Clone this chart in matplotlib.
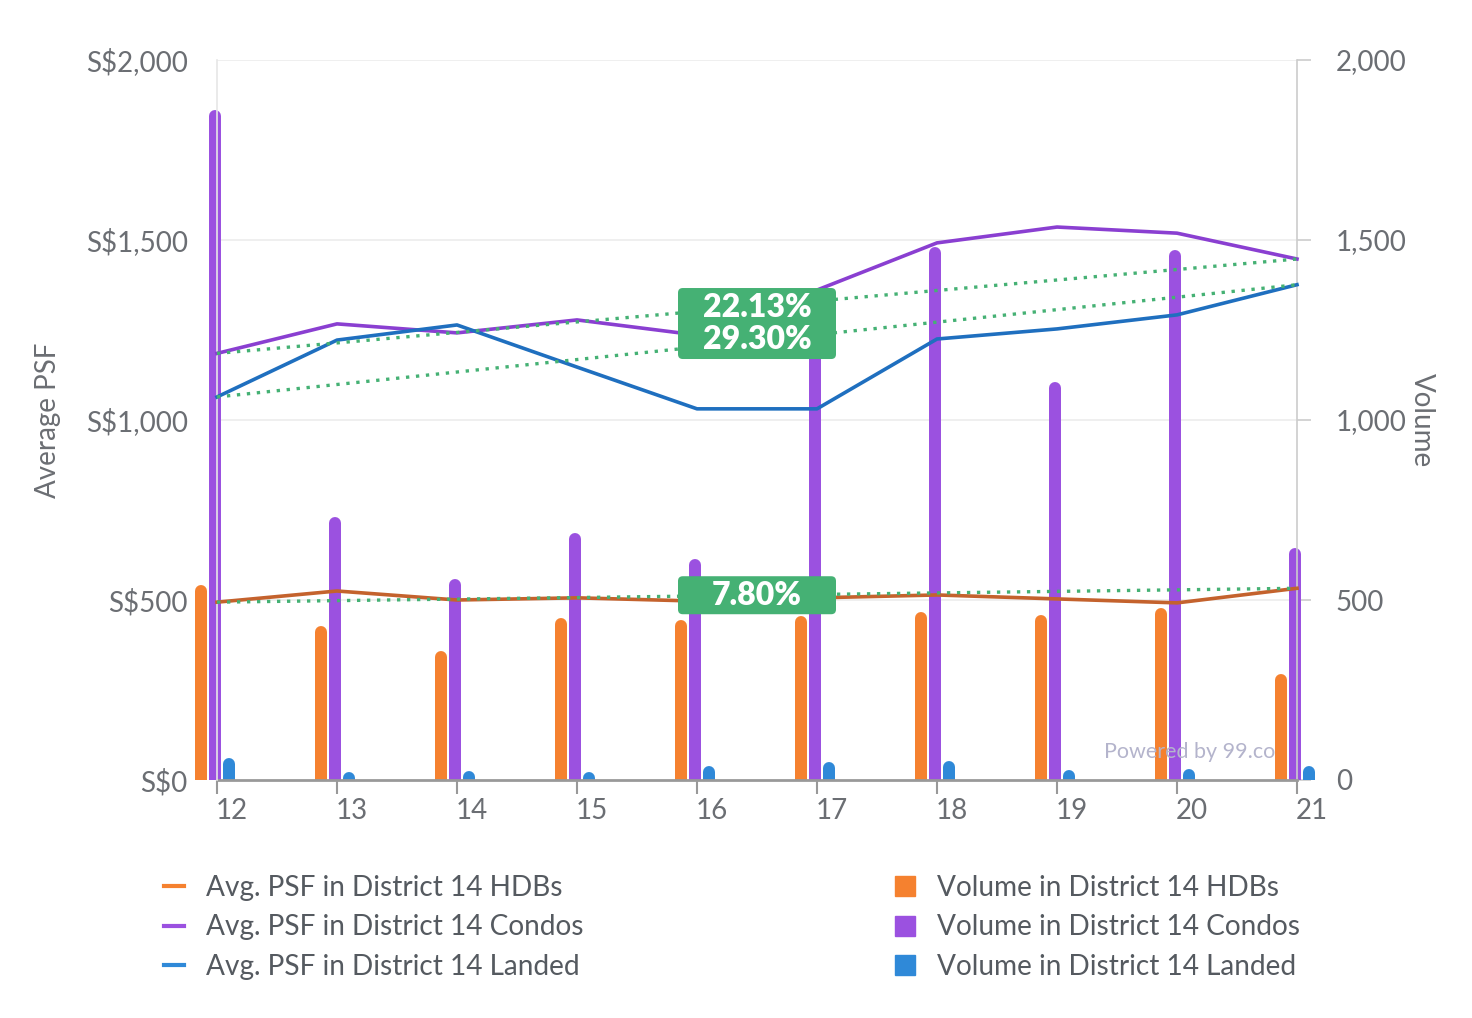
import matplotlib
matplotlib.use("Agg")
import matplotlib.pyplot as plt
import matplotlib.transforms as mtransforms
from matplotlib.patches import FancyBboxPatch, Rectangle
from matplotlib.lines import Line2D

plt.rcParams['font.family'] = ['Lato', 'DejaVu Sans']

# data
districts = [12, 13, 14, 15, 16, 17, 18, 19, 20, 21]
psf_hdb = [494, 525, 500, 506, 497, 506, 514, 503, 492, 532.5]
psf_condo = [1185, 1267, 1242, 1278, 1236, 1361, 1492, 1536, 1519, 1447.2]
psf_landed = [1064, 1222, 1264, 1147, 1031, 1031, 1225, 1253, 1292, 1375.8]
vol_hdb = [542, 428, 358, 450, 444, 455, 467, 458, 478, 294]
vol_condo = [1861, 731, 558, 686, 614, 1300, 1481, 1106, 1472, 644]
vol_landed = [61, 22, 25, 22, 39, 50, 53, 28, 31, 39]
trend_labels = ["22.13%\n29.30%", "7.80%"]

c_orange = '#f5812f'
c_purple = '#9b51e0'
c_blue = '#2f89d8'
c_line_orange = '#c4622d'
c_line_purple = '#8a3fd1'
c_line_blue = '#1f6fbf'
c_green = '#45b174'
c_text = '#6b6e73'
fs = 20

fig = plt.figure(figsize=(14.72, 10.18), dpi=100)
ax = fig.add_axes([217/1472, 1-780/1018, 1080/1472, 720/1018])
ax2 = ax.twinx()
ax.set_zorder(ax2.get_zorder() + 1)
ax.patch.set_visible(False)

ymax = 2000
for a in (ax, ax2):
    a.set_ylim(0, ymax)
    a.set_xlim(12, 21)

# grid
for v in [500, 1000, 1500, 2000]:
    ax2.axhline(v, color='#ececec', lw=1.2, zorder=0)

# rounded-top bars on the volume axis
bar_lw_px = 12
cap = (bar_lw_px / 2) * ymax / 720
clip = Rectangle((-0.1, 0), 1.2, 1.2, transform=ax2.transAxes, visible=False)
ax2.add_patch(clip)
for vals, off, col in [(vol_hdb, -16, c_orange), (vol_condo, -1.7, c_purple),
                       (vol_landed, 12, c_blue)]:
    xs = [d + off / 120 for d in districts]
    tops = [v - cap for v in vals]
    lc = ax2.vlines(xs, -50, tops, colors=col, lw=bar_lw_px * 0.72,
                    capstyle='round', zorder=2)
    lc.set_clip_path(clip)

# PSF lines
for vals, col in [(psf_condo, c_line_purple), (psf_landed, c_line_blue),
                  (psf_hdb, c_line_orange)]:
    ax.plot(districts, vals, color=col, lw=2.6, zorder=3, clip_on=False)
    ax.plot([districts[0], districts[-1]], [vals[0], vals[-1]], color=c_green,
            lw=2.4, ls=(0, (1, 2)), zorder=4, clip_on=False)

# trend labels
xm = (districts[0] + districts[-1]) / 2
mid_top = ((psf_condo[0] + psf_condo[-1]) / 2 + (psf_landed[0] + psf_landed[-1]) / 2) / 2
mid_bot = (psf_hdb[0] + psf_hdb[-1]) / 2
for yc, txt, hpx in [(mid_top, trend_labels[0], 71), (mid_bot, trend_labels[1], 38)]:
    w = 158 / 120
    h = hpx * ymax / 720
    box = FancyBboxPatch((xm - w / 2, yc - h / 2), w, h,
                         boxstyle='round,pad=0,rounding_size=0.04',
                         mutation_aspect=ymax / 720 * 120,
                         fc=c_green, ec='none', zorder=5)
    ax.add_patch(box)
    ax.text(xm, yc, txt, ha='center', va='center', color='white',
            fontsize=23, fontweight='heavy', linespacing=1.15, zorder=6)

# axes styling
ax.set_xticks(districts)
ax.set_xticklabels([str(d) for d in districts])
ax.tick_params(axis='x', length=10, width=1.5, color='#999999', labelsize=fs,
               labelcolor=c_text, pad=3)
shift = mtransforms.ScaledTranslation(15 / 100, 0, fig.dpi_scale_trans)
for lab in ax.get_xticklabels():
    lab.set_transform(lab.get_transform() + shift)

ax.set_yticks([0, 500, 1000, 1500, 2000])
ax.set_yticklabels(['S$0', 'S$500', 'S$1,000', 'S$1,500', 'S$2,000'])
ax.tick_params(axis='y', length=0, labelsize=fs, labelcolor=c_text, pad=21)
ax2.set_yticks([0, 500, 1000, 1500, 2000])
ax2.set_yticklabels(['0', '500', '1,000', '1,500', '2,000'])
ax2.tick_params(axis='y', length=10, width=1.2, color='#cccccc', labelsize=fs,
                labelcolor=c_text, pad=18)
ax2.tick_params(axis='x', length=0)

for a in (ax, ax2):
    a.spines['top'].set_visible(False)
ax.spines['left'].set_color('#e6e6e6')
ax.spines['left'].set_linewidth(1.2)
ax.spines['right'].set_visible(False)
ax2.spines['left'].set_visible(False)
ax2.spines['right'].set_color('#cccccc')
ax2.spines['right'].set_linewidth(1.2)
ax2.spines['bottom'].set_color('#999999')
ax2.spines['bottom'].set_linewidth(2)
ax.spines['bottom'].set_visible(False)

ax.set_ylabel('Average PSF', fontsize=fs, color=c_text)
ax.yaxis.set_label_coords((61 - 217) / 1080, 0.5)
ax2.set_ylabel('Volume', fontsize=fs, color=c_text, rotation=270)
ax2.yaxis.set_label_coords((1435 - 217) / 1080, 0.5)

ax.text(1275 / 1472, 1 - 752 / 1018, 'Powered by 99.co', transform=fig.transFigure,
        ha='right', va='center', fontsize=15.5, color='#b4b4cc', zorder=7)

# legends
line_handles = [Line2D([], [], color=c, lw=3) for c in (c_orange, c_purple, c_blue)]
line_labels = ['Avg. PSF in District 14 HDBs', 'Avg. PSF in District 14 Condos',
               'Avg. PSF in District 14 Landed']
bar_handles = [Line2D([], [], color=c, marker='s', ms=15, ls='none')
               for c in (c_orange, c_purple, c_blue)]
bar_labels = ['Volume in District 14 HDBs', 'Volume in District 14 Condos',
              'Volume in District 14 Landed']
leg_kw = dict(loc='upper left', frameon=False, fontsize=20.2, labelcolor='#555a60',
              handlelength=0.72, handletextpad=0.78, labelspacing=0.48,
              borderpad=0, borderaxespad=0)
fig.legend(line_handles, line_labels,
           bbox_to_anchor=(164 / 1472, 1 - 875 / 1018), **leg_kw)
fig.legend(bar_handles, bar_labels,
           bbox_to_anchor=(895 / 1472, 1 - 875 / 1018), **leg_kw)

fig.savefig('out.png', dpi=100)
